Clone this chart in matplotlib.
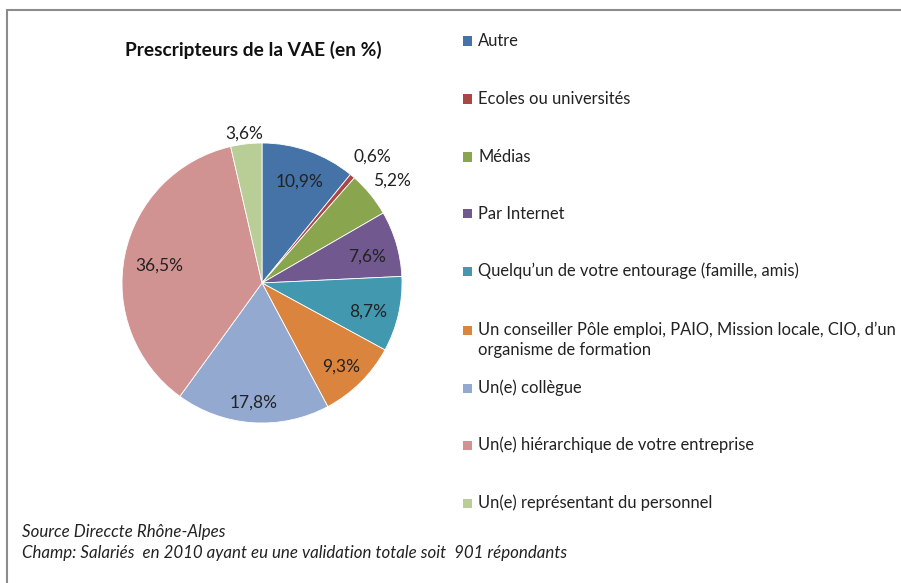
import numpy as np
import matplotlib.pyplot as plt
from matplotlib.patches import Rectangle

categories = ["Autre", "Ecoles ou universités", "Médias", "Par Internet",
              "Quelqu\u2019un de votre entourage (famille, amis)",
              "Un conseiller Pôle emploi, PAIO, Mission locale, CIO, d\u2019un\norganisme de formation",
              "Un(e) collègue", "Un(e) hiérarchique de votre entreprise",
              "Un(e) représentant du personnel"]
values = [10.9, 0.6, 5.2, 7.6, 8.7, 9.3, 17.8, 36.5, 3.6]
labels = ["10,9%", "0,6%", "5,2%", "7,6%", "8,7%", "9,3%", "17,8%", "36,5%", "3,6%"]
colors = ["#4572A7", "#AA4643", "#89A54E", "#71588F", "#4198AF",
          "#DB843D", "#93A9CF", "#D19392", "#B9CD96"]
label_dist = [0.8, 1.22, 1.2, 0.78, 0.78, 0.8, 0.83, 0.75, 1.1]

W, H = 901, 583
plt.rcParams['font.family'] = ['Lato', 'DejaVu Sans']
fig = plt.figure(figsize=(W / 100, H / 100), dpi=100)

def fx(x):
    return x / W

def fy(y):
    return 1 - y / H

# outer frame
fig.add_artist(Rectangle((fx(7), fy(600)), fx(920) - fx(7), fy(10) - fy(600),
                         transform=fig.transFigure, fill=False,
                         edgecolor="#8c8c8c", linewidth=1.5))

cx, cy, r = 262, 283, 140
ax = fig.add_axes([fx(cx - r), fy(cy + r), 2 * r / W, 2 * r / H])
wedges, _ = ax.pie(values, colors=colors, startangle=90, counterclock=False,
                   radius=1, wedgeprops=dict(edgecolor="white", linewidth=0.6))
ax.set_xlim(-1, 1)
ax.set_ylim(-1, 1)
ax.axis("off")

for w, lab, d in zip(wedges, labels, label_dist):
    ang = np.deg2rad((w.theta1 + w.theta2) / 2)
    ax.text(d * np.cos(ang), d * np.sin(ang) - 0.028, lab, ha="center", va="center",
            fontsize=12.5, color="#222222")

fig.text(fx(253), fy(50), "Prescripteurs de la VAE (en %)", ha="center", va="center",
         fontsize=13.8, fontweight="bold", color="#111111")

# legend
leg_y = [41, 99, 157, 214, 271, 330, 388, 445, 503]
for cat, col, y in zip(categories, colors, leg_y):
    fig.add_artist(Rectangle((fx(463), fy(y + 4.5)), 9 / W, 9 / H,
                             transform=fig.transFigure, facecolor=col, edgecolor="none"))
    if "\n" in cat:
        fig.text(fx(478), fy(y - 8), cat, ha="left", va="top",
                 fontsize=11.9, color="#222222", linespacing=1.3)
    else:
        fig.text(fx(478), fy(y), cat, ha="left", va="center",
                 fontsize=11.9, color="#222222")

fig.text(fx(22), fy(532), "Source Direccte Rhône-Alpes", ha="left", va="center",
         fontsize=12.2, style="italic", color="#222222")
fig.text(fx(22), fy(553), "Champ: Salariés  en 2010 ayant eu une validation totale soit  901 répondants",
         ha="left", va="center", fontsize=12.2, style="italic", color="#222222")

fig.savefig("out.png", dpi=100)
